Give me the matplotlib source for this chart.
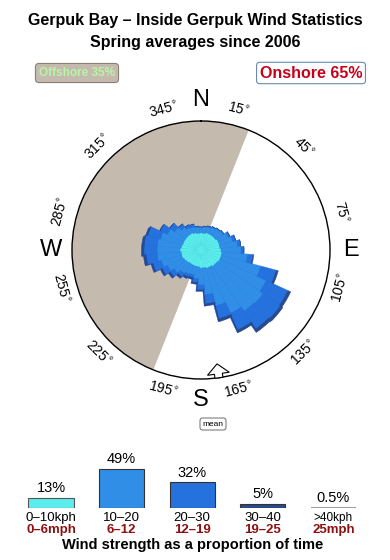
import numpy as np
import matplotlib
matplotlib.use('Agg')
import matplotlib.pyplot as plt
from matplotlib import transforms
from matplotlib.patches import Polygon

plt.rcParams['font.family'] = ['Liberation Sans', 'DejaVu Sans']

title = 'Gerpuk Bay \u2013 Inside Gerpuk Wind Statistics'
subtitle = 'Spring averages since 2006'
offshore_pct = 35
onshore_pct = 65
offshore_from, offshore_to = 201.7, 381.7   # compass deg, shaded through west
mean_dir = 172

# rose: 10 degree sectors, band lengths in rose units (rim = 12.9)
directions = np.arange(0, 360, 10)
speed_0_10 = [1.7, 1.7, 1.8, 1.8, 1.8, 1.8, 1.9, 1.9, 1.9, 2.0, 2.1, 2.1,
              2.1, 2.0, 2.0, 1.9, 1.9, 1.8, 1.8, 1.7, 1.7, 1.7, 1.7, 1.8,
              1.9, 2.0, 2.0, 2.1, 2.0, 1.9, 1.9, 1.9, 1.9, 1.9, 1.8, 1.7]
speed_10_20 = [0.6, 0.7, 0.6, 0.7, 0.8, 0.9, 1.1, 1.4, 1.8, 2.0, 2.6, 4.1,
               5.1, 5.6, 5.5, 5.1, 3.9, 2.7, 1.7, 1.2, 0.9, 1.0, 1.2, 1.5,
               1.8, 2.1, 2.4, 2.3, 2.4, 2.3, 1.8, 1.3, 0.9, 0.6, 0.6, 0.6]
speed_20_30 = [0.0, 0.0, 0.1, 0.1, 0.1, 0.1, 0.2, 0.3, 0.3, 0.3, 0.5, 1.6,
               2.4, 2.1, 2.1, 1.8, 1.3, 0.9, 0.5, 0.4, 0.3, 0.3, 0.4, 0.5,
               0.6, 0.9, 1.1, 1.3, 1.3, 1.3, 0.8, 0.6, 0.4, 0.3, 0.3, 0.1]
speed_30_40 = [0, 0, 0, 0, 0, 0, 0, 0, 0, 0, 0.1, 0.2,
               0.3, 0.3, 0.3, 0.2, 0.2, 0.1, 0, 0, 0, 0, 0, 0,
               0, 0, 0.1, 0.1, 0.1, 0.1, 0, 0, 0, 0, 0, 0]
rim = 12.9

# summary bars
bands_kph = ['0\u201310kph', '10\u201320', '20\u201330', '30\u201340', '>40kph']
bands_mph = ['0\u20136mph', '6\u201312', '12\u201319', '19\u201325', '25mph']
band_pct = [13, 49, 32, 5, 0.5]
band_labels = ['13%', '49%', '32%', '5%', '0.5%']
band_colors = ['#5BEDEC', '#318EE6', '#2571DD', '#2A4B8C', '#A0A0A0']

fig = plt.figure(figsize=(3.9, 5.6), dpi=100)

fig.text(0.5, 1 - 20 / 560, title, ha='center', va='center',
         fontsize=11.5, fontweight='bold')
fig.text(0.5, 1 - 42 / 560, subtitle, ha='center', va='center',
         fontsize=11.5, fontweight='bold')
fig.text(77 / 390, 1 - 73 / 560, 'Offshore %d%%' % offshore_pct,
         ha='center', va='center', fontsize=8.5, fontweight='bold',
         color='#B8F5A4',
         bbox=dict(boxstyle='round,pad=0.3', fc='#C4BAAE', ec='#8A8078', lw=0.8))
fig.text(311 / 390, 1 - 73 / 560, 'Onshore %d%%' % onshore_pct,
         ha='center', va='center', fontsize=11.5, fontweight='bold',
         color='#C8001A',
         bbox=dict(boxstyle='round,pad=0.2', fc='white', ec='#6A8AB0', lw=0.8))

# ---- rose
ax = fig.add_axes([72 / 390, 181 / 560, 258 / 390, 258 / 560],
                  projection='polar')
ax.set_theta_zero_location('N')
ax.set_theta_direction(-1)
ax.set_ylim(0, rim)
ax.set_yticks([])
ax.grid(False)
ax.spines['polar'].set_linewidth(1.0)

ax.bar(np.radians((offshore_from + offshore_to) / 2), rim,
       width=np.radians(offshore_to - offshore_from), bottom=0,
       color='#C4BAAE', edgecolor='none', zorder=1)

theta = np.radians(directions)
w = np.radians(10)
bands = [speed_0_10, speed_10_20, speed_20_30, speed_30_40]
total = np.sum(bands, axis=0)
shadow = ax.transData + transforms.ScaledTranslation(-0.016, -0.014,
                                                     fig.dpi_scale_trans)
ax.bar(theta, total, width=w, bottom=0, color='#22489A', edgecolor='#22489A',
       lw=0.3, transform=shadow, zorder=2)
bottom = np.zeros(len(directions))
for vals, col in zip(bands, band_colors):
    vals = np.array(vals, dtype=float)
    ax.bar(theta, vals, width=w, bottom=bottom, color=col, edgecolor=col,
           lw=0.3, zorder=3)
    bottom = bottom + vals

tick_deg = np.arange(15, 360, 30)
ax.set_xticks(np.radians(tick_deg))
ax.set_xticklabels([])
ax.tick_params(axis='x', length=4, width=0.6, direction='inout', pad=0)
for a in tick_deg:
    rot = (-a) % 180
    if rot > 90:
        rot -= 180
    ax.text(np.radians(a), rim * 1.125, '%d$^{\\circ}$' % a, fontsize=10,
            rotation=rot, rotation_mode='anchor', ha='center', va='center',
            clip_on=False)
for lab, a in zip(['N', 'E', 'S', 'W'], [0, 90, 180, 270]):
    ax.text(np.radians(a), rim * 1.165, lab, fontsize=17, ha='center',
            va='center', clip_on=False)

# mean direction arrow on the rim, pointing in
c = ax.transData.transform((0, 0))
p = ax.transData.transform((np.radians(mean_dir), rim))
v = (c - p) / np.hypot(*(c - p))
u = np.array([-v[1], v[0]])
shape = [(-4, 0), (4, 0), (4, 4), (11, 4), (0, 14), (-11, 4), (-4, 4)]
verts = [p + s * u + t * v for s, t in shape]
fig.patches.append(Polygon(verts, closed=True, fc='white', ec='black', lw=0.8,
                           transform=transforms.IdentityTransform(),
                           figure=fig))
fig.text(213 / 390, 1 - 424 / 560, 'mean', ha='center', va='center',
         fontsize=6,
         bbox=dict(boxstyle='round,pad=0.3', fc='white', ec='#555555', lw=0.6))

# ---- speed bars
bx = fig.add_axes([0, 52 / 560, 1, 60 / 560])
bx.set_xlim(-51 / 70.6, (390 - 51) / 70.6)
bx.set_ylim(0, 75)
bx.axis('off')
x = np.arange(len(band_pct))
bx.bar(x, band_pct, width=0.64, color=band_colors,
       edgecolor=['#555555', '#333333', '#333333', '#333333', '#A0A0A0'],
       lw=[0.8, 0.8, 0.8, 0.8, 1.5])
for i in x:
    bx.annotate(band_labels[i], (i, band_pct[i]), xytext=(0, 7),
                textcoords='offset points', ha='center', va='center',
                fontsize=10.5)
    bx.annotate(bands_kph[i], (i, 0), xytext=(0, -7.5),
                textcoords='offset points', ha='center', va='center',
                fontsize=9.5 if i < 4 else 8.5, annotation_clip=False)
    bx.annotate(bands_mph[i], (i, 0), xytext=(0, -15.5),
                textcoords='offset points', ha='center', va='center',
                fontsize=9.5, fontweight='bold', color='#8C1010',
                annotation_clip=False)
fig.text(193 / 390, 1 - 545 / 560, 'Wind strength as a proportion of time',
         ha='center', va='center', fontsize=10.5, fontweight='bold')

fig.savefig('out.png', dpi=100)
